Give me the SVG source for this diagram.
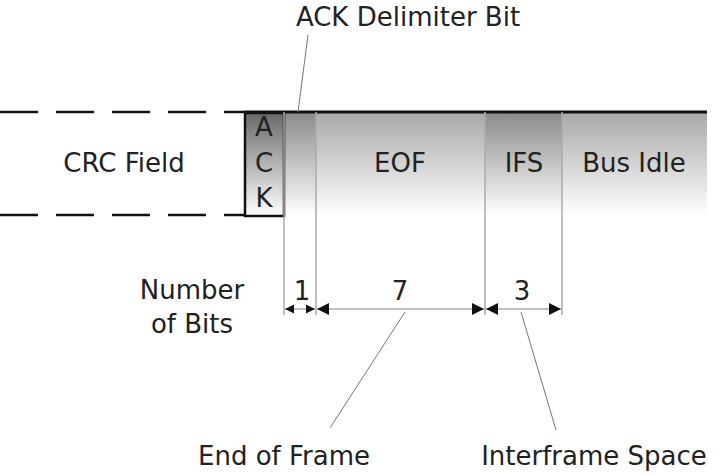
<svg xmlns="http://www.w3.org/2000/svg" width="720" height="475" viewBox="0 0 720 475">
<style>
text{font-family:"DejaVu Sans","Liberation Sans",sans-serif;font-size:26px;fill:#222}
.g{stroke:#aaa;stroke-width:1.5;fill:none}
.lead{stroke:#777;stroke-width:1;fill:none}
</style>
<defs>
<linearGradient id="gr" x1="0" y1="0" x2="0" y2="1">
<stop offset="0" stop-color="#8a8a8a"/><stop offset="1" stop-color="#fff"/></linearGradient>
<linearGradient id="gr2" x1="0" y1="0" x2="0" y2="1">
<stop offset="0" stop-color="#a8a8a8"/><stop offset="1" stop-color="#fff"/></linearGradient>
<linearGradient id="gr3" x1="0" y1="0" x2="0" y2="1">
<stop offset="0" stop-color="#6a6a6a"/><stop offset="1" stop-color="#fff"/></linearGradient>
<marker id="a" viewBox="0 0 10 10" refX="10" refY="5" markerWidth="14" markerHeight="12" orient="auto-start-reverse" markerUnits="userSpaceOnUse"><path d="M0,0L10,5L0,10z" fill="#111"/></marker>
<marker id="s" viewBox="0 0 10 10" refX="10" refY="5" markerWidth="9" markerHeight="9" orient="auto-start-reverse" markerUnits="userSpaceOnUse"><path d="M0,0L10,5L0,10z" fill="#111"/></marker>
</defs>
<g id="fields">
<rect x="284" y="112" width="32" height="104" fill="url(#gr)"/>
<rect x="316" y="112" width="169" height="104" fill="url(#gr2)"/>
<rect x="485" y="112" width="77" height="104" fill="url(#gr)"/>
<rect x="562" y="112" width="145" height="104" fill="url(#gr2)"/>
<line x1="244" y1="112" x2="707" y2="112" stroke="#111" stroke-width="3"/>
<path d="M0,112H244M0,215H244" stroke="#111" stroke-width="2.5" stroke-dasharray="38,18" stroke-dashoffset="0"/>
<rect id="ack" x="245" y="113" width="39" height="103" fill="url(#gr3)" stroke="#111" stroke-width="2.5"/>
<text x="264" y="136" text-anchor="middle" font-size="22">A</text>
<text x="264" y="172" text-anchor="middle" font-size="22">C</text>
<text x="264" y="207" text-anchor="middle" font-size="22">K</text>
<text x="124" y="172" text-anchor="middle">CRC Field</text>
<text x="400" y="172" text-anchor="middle">EOF</text>
<text x="524" y="172" text-anchor="middle">IFS</text>
<text x="634" y="172" text-anchor="middle">Bus Idle</text>
</g>
<g id="dims">
<path class="g" d="M284,112V315M316,112V315M485,112V315M562,112V315"/>
<line x1="285" y1="309" x2="315" y2="309" stroke="#aaa" stroke-width="1.5" marker-start="url(#s)" marker-end="url(#s)"/>
<line x1="317" y1="309" x2="484" y2="309" stroke="#aaa" stroke-width="1.5" marker-start="url(#a)" marker-end="url(#a)"/>
<line x1="486" y1="309" x2="561" y2="309" stroke="#aaa" stroke-width="1.5" marker-start="url(#a)" marker-end="url(#a)"/>
<text x="302" y="300" text-anchor="middle">1</text>
<text x="400" y="300" text-anchor="middle">7</text>
<text x="522" y="300" text-anchor="middle">3</text>
<text x="192" y="299" text-anchor="middle">Number</text>
<text x="192" y="333" text-anchor="middle">of Bits</text>
</g>
<g id="connectors">
<line class="lead" x1="298" y1="112" x2="308" y2="35"/>
<line class="lead" x1="405" y1="312" x2="330" y2="428"/>
<line class="lead" x1="521" y1="312" x2="556" y2="430"/>
</g>
<g id="labels">
<text x="408" y="26" text-anchor="middle">ACK Delimiter Bit</text>
<text x="284" y="465" text-anchor="middle">End of Frame</text>
<text x="594" y="465" text-anchor="middle">Interframe Space</text>
</g>
</svg>
